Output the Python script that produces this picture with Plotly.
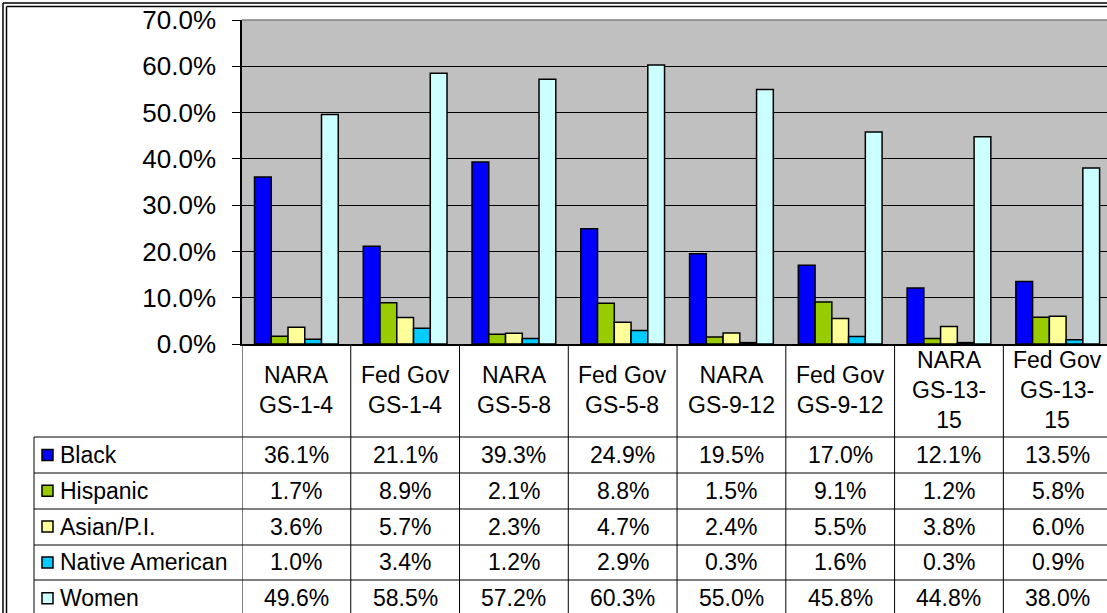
"""Workforce share by grade group: NARA vs Federal Government, with Excel-style data table."""

import plotly.graph_objects as go

W, H = 1107, 613

categories = [
    "NARA<br>GS-1-4", "Fed Gov<br>GS-1-4", "NARA<br>GS-5-8", "Fed Gov<br>GS-5-8",
    "NARA<br>GS-9-12", "Fed Gov<br>GS-9-12", "NARA<br>GS-13-<br>15", "Fed Gov<br>GS-13-<br>15",
]
series_names = ["Black", "Hispanic", "Asian/P.I.", "Native American", "Women"]
black = [0.361, 0.211, 0.393, 0.249, 0.195, 0.170, 0.121, 0.135]
hispanic = [0.017, 0.089, 0.021, 0.088, 0.015, 0.091, 0.012, 0.058]
asian = [0.036, 0.057, 0.023, 0.047, 0.024, 0.055, 0.038, 0.060]
native = [0.010, 0.034, 0.012, 0.029, 0.003, 0.016, 0.003, 0.009]
women = [0.496, 0.585, 0.572, 0.603, 0.550, 0.458, 0.448, 0.380]
series_values = [black, hispanic, asian, native, women]
colors = ["#0000FF", "#99CC00", "#FFFF99", "#00CCFF", "#CCFFFF"]

FONT = "Liberation Sans, Arial, sans-serif"


def py(p):
    """pixel row -> paper y"""
    return 1 - p / H


def px(p):
    return p / W


x_idx = list(range(len(categories)))

fig = go.Figure()
for name, vals, col in zip(series_names, series_values, colors):
    fig.add_trace(go.Bar(
        x=x_idx, y=vals, name=name,
        marker=dict(color=col, line=dict(color="#000000", width=1.5)),
        showlegend=False,
    ))

shapes = []
annotations = []

# category header cells and vertical table lines
for i, cat in enumerate(categories):
    annotations.append(dict(
        x=i, y=py(390), xref="x", yref="paper", text=cat, showarrow=False,
        font=dict(family=FONT, size=23, color="#000"), align="center",
        xanchor="center", yanchor="middle",
    ))
    shapes.append(dict(type="line", xref="x", yref="paper",
                       x0=i - 0.5, x1=i - 0.5, y0=py(344), y1=py(620),
                       line=dict(color="#000", width=1)))

# row lines
row_edges = [437, 473, 509, 545, 580]
for e in row_edges:
    shapes.append(dict(type="line", xref="paper", yref="paper",
                       x0=px(34), x1=1, y0=py(e), y1=py(e),
                       line=dict(color="#000", width=1)))
shapes.append(dict(type="line", xref="paper", yref="paper",
                   x0=px(34), x1=px(34), y0=py(437), y1=py(620),
                   line=dict(color="#000", width=1)))

# data rows: legend key + values
for r, (name, vals, col) in enumerate(zip(series_names, series_values, colors)):
    yc = 455 + r * 35.8
    shapes.append(dict(type="rect", xref="paper", yref="paper",
                       x0=px(42), x1=px(53), y0=py(yc - 5.5), y1=py(yc + 5.5),
                       fillcolor=col, line=dict(color="#000", width=1.5)))
    annotations.append(dict(
        x=px(58), y=py(yc), xref="paper", yref="paper", text=name, showarrow=False,
        font=dict(family=FONT, size=23, color="#000"), xanchor="left", yanchor="middle",
    ))
    for i, v in enumerate(vals):
        annotations.append(dict(
            x=i, y=py(yc), xref="x", yref="paper", text=f"{v * 100:.1f}%", showarrow=False,
            font=dict(family=FONT, size=23, color="#000"), xanchor="center", yanchor="middle",
        ))

# plot-area top border
shapes.append(dict(type="line", xref="paper", yref="paper",
                   x0=px(242), x1=1, y0=py(20), y1=py(20),
                   line=dict(color="#808080", width=1.5)))

# outer double frame
for p in (3, 6.5):
    shapes.append(dict(type="line", xref="paper", yref="paper",
                       x0=px(p), x1=px(p), y0=py(p), y1=py(620),
                       line=dict(color="#000", width=1.5)))
    shapes.append(dict(type="line", xref="paper", yref="paper",
                       x0=px(p), x1=1, y0=py(p), y1=py(p),
                       line=dict(color="#000", width=1.5)))

fig.update_layout(
    width=W, height=H,
    margin=dict(l=0, r=0, t=0, b=0),
    paper_bgcolor="#FFFFFF",
    plot_bgcolor="#C0C0C0",
    barmode="group", bargap=0.23, bargroupgap=0,
    shapes=shapes, annotations=annotations,
    xaxis=dict(
        domain=[px(242), 1], range=[-0.5, 7.453],
        showticklabels=False, showgrid=False, zeroline=False,
        showline=True, linecolor="#000", linewidth=1.5, ticks="",
    ),
    yaxis=dict(
        domain=[py(344), py(20)], range=[0, 0.7], dtick=0.1, tickformat=".1%",
        showgrid=True, gridcolor="#000", gridwidth=1, zeroline=False,
        showline=True, linecolor="#000", linewidth=1.5,
        ticks="outside", ticklen=8, tickcolor="#000", ticklabelstandoff=11,
        tickfont=dict(family=FONT, size=26, color="#000"),
        automargin=False,
    ),
    font=dict(family=FONT),
)

# page body margin would shift the figure by 8px; the chart fills the window
fig.write_html(
    "out.html",
    config={"displayModeBar": False},
    post_script="document.body.style.margin='0';document.body.style.overflow='hidden';",
)
